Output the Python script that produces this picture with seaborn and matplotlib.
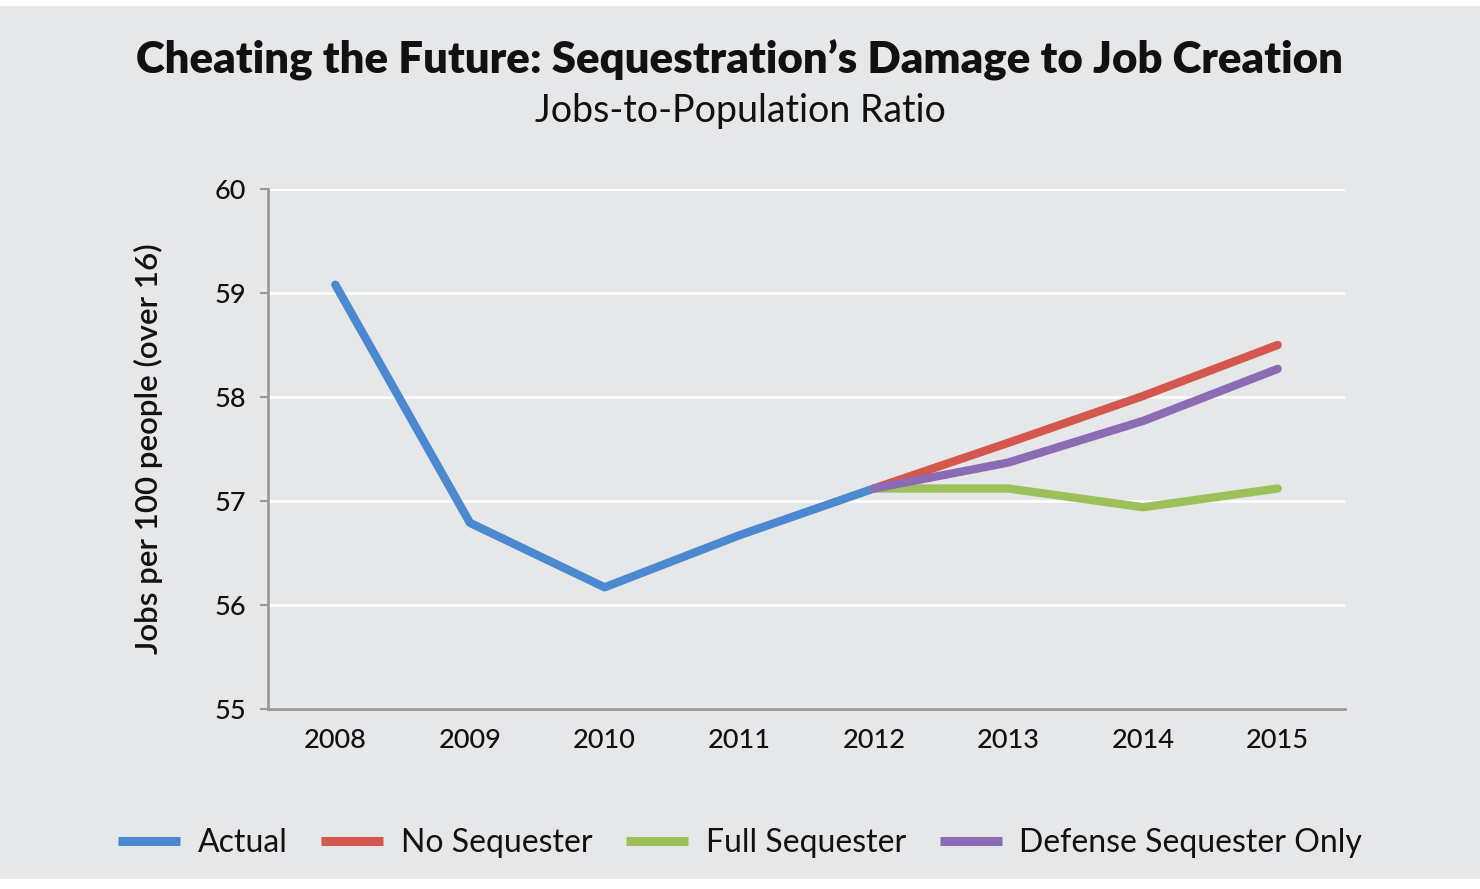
import pandas as pd
import matplotlib.pyplot as plt
import seaborn as sns
from matplotlib.patches import Rectangle

# values
years = ["2008", "2009", "2010", "2011", "2012", "2013", "2014", "2015"]
actual = [59.08, 56.79, 56.17, 56.67, 57.12]
no_sequester = [57.12, 57.56, 58.01, 58.50]
full_sequester = [57.12, 57.12, 56.94, 57.12]
defense_only = [57.12, 57.37, 57.77, 58.27]

series_names = ["Actual", "No Sequester", "Full Sequester", "Defense Sequester Only"]
colors = ["#4a89cf", "#d4574e", "#9cc15a", "#8c6bb5"]

def build_frame():
    rows = []
    for y, v in zip(years[:5], actual):
        rows.append((y, v, "Actual"))
    for name, vals in zip(series_names[1:], [no_sequester, full_sequester, defense_only]):
        for y, v in zip(years[4:], vals):
            rows.append((y, v, name))
    return pd.DataFrame(rows, columns=["Year", "Ratio", "Series"])

df = build_frame()

sns.set_theme(style="white")
plt.rcParams['font.family'] = ['Lato', 'DejaVu Sans']

bg = "#e6e7e8"
ink = "#111111"
fig = plt.figure(figsize=(14.8, 8.89), dpi=100, facecolor="white")
fig.patches.append(Rectangle((0, 10 / 889), 1, 1 - 16 / 889, transform=fig.transFigure,
                             facecolor=bg, edgecolor="none", zorder=-10))

ax = fig.add_axes([268 / 1480, 1 - 709 / 889, (1345 - 268) / 1480, (709 - 189) / 889])
ax.set_facecolor(bg)

sns.lineplot(data=df, x="Year", y="Ratio", hue="Series", hue_order=series_names,
             palette=colors, linewidth=6, sort=False, ax=ax, legend=False)
for line in ax.get_lines():
    line.set_solid_capstyle("round")
    line.set_solid_joinstyle("round")

ax.set_xlim(-0.5, len(years) - 0.5)
ax.set_ylim(55, 60)
ax.set_yticks(range(55, 61))
ax.yaxis.grid(True, color="white", linewidth=2)
ax.set_axisbelow(True)
ax.set_xticks(range(len(years)))
ax.set_xticklabels(years)
ax.set_xticks([i - 0.5 for i in range(len(years) + 1)], minor=True)

for side in ["top", "right"]:
    ax.spines[side].set_visible(False)
for side in ["left", "bottom"]:
    ax.spines[side].set_color("#9a9a9a")
    ax.spines[side].set_linewidth(2)

ax.tick_params(axis="x", which="major", length=0, pad=14, labelsize=19.5, labelcolor=ink)
ax.tick_params(axis="x", which="minor", length=6, width=1.5, color="#9a9a9a", direction="out")
ax.tick_params(axis="y", length=6, width=1.5, color="#9a9a9a", pad=10, labelsize=19.5,
               labelcolor=ink, left=True)
for lab in ax.get_xticklabels() + ax.get_yticklabels():
    lab.set_fontweight("medium")

ax.set_xlabel("")
ax.set_ylabel("Jobs per 100 people (over 16)", fontsize=22.5, fontweight="semibold",
              color=ink, labelpad=37)

fig.text(0.5, 1 - 60 / 889, "Cheating the Future: Sequestration\u2019s Damage to Job Creation",
         ha="center", va="center", fontsize=31.5, fontweight="heavy", color=ink)
fig.text(0.5, 1 - 111 / 889, "Jobs-to-Population Ratio",
         ha="center", va="center", fontsize=27, color=ink)

handles = [plt.Line2D([], [], color=c, linewidth=6.5, solid_capstyle="butt") for c in colors]
fig.legend(handles, series_names, loc="center", bbox_to_anchor=(0.500, 1 - 843 / 889),
           ncol=4, frameon=False, fontsize=23, handlelength=1.95, handletextpad=0.55,
           columnspacing=1.05, labelcolor=ink)

fig.savefig("out.png", dpi=100, facecolor=fig.get_facecolor())
